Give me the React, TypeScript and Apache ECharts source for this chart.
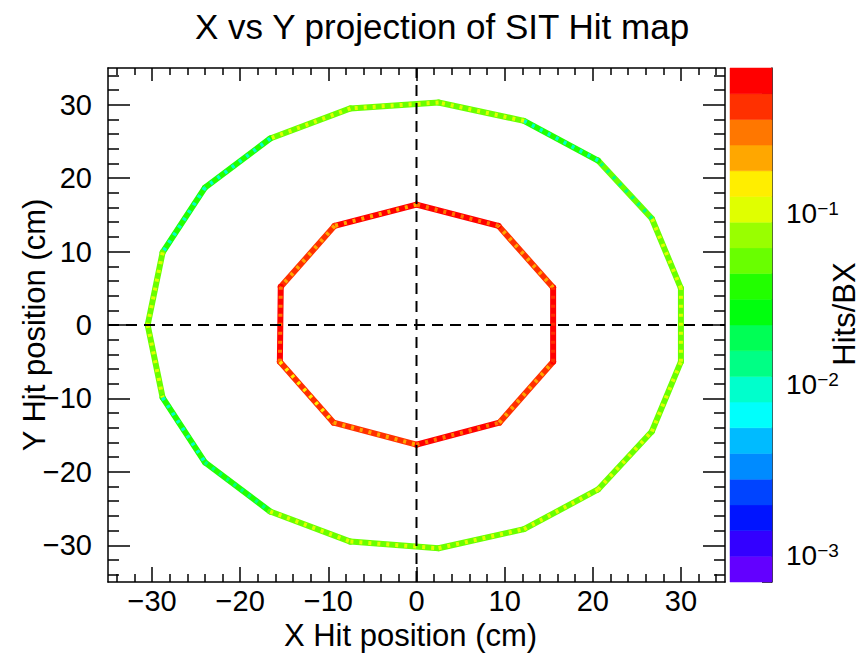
import React, { useEffect, useRef } from 'react';
import * as echarts from 'echarts';

// ---------- texts ----------
const TITLE = 'X vs Y projection of SIT Hit map';
const X_TITLE = 'X Hit position (cm)';
const Y_TITLE = 'Y Hit position (cm)';
const Z_TITLE = 'Hits/BX';

// ---------- axes ----------
const AXIS_MIN = -35;
const AXIS_MAX = 35;
const MAJOR_TICKS = [-30, -20, -10, 0, 10, 20, 30];
const MINOR_TICKS = [-34, -32, -28, -26, -24, -22, -18, -16, -14, -12, -8, -6, -4, -2,
  2, 4, 6, 8, 12, 14, 16, 18, 22, 24, 26, 28, 32, 34];

// ---------- colour (z) axis, log scale ----------
const Z_MIN = 6.95e-4;
const Z_MAX = 0.71;
const Z_MAJOR = [0.001, 0.01, 0.1];
const Z_MINOR = [7e-4, 8e-4, 9e-4,
  0.002, 0.003, 0.004, 0.005, 0.006, 0.007, 0.008, 0.009,
  0.02, 0.03, 0.04, 0.05, 0.06, 0.07, 0.08, 0.09,
  0.2, 0.3, 0.4, 0.5, 0.6, 0.7];
// 20 contour colours, lowest to highest
const PALETTE = ['#6300ff', '#3300ff', '#0014ff', '#0044ff', '#008bff', '#00bbff', '#00fffc', '#00ffcc',
  '#00ff85', '#00ff55', '#00ff0e', '#22ff00', '#69ff00', '#99ff00', '#e0ff00', '#ffee00',
  '#ffa700', '#ff7700', '#ff3000', '#ff0000'];

// ---------- outer SIT layer (19 ladders): polygon corners (cm) ----------
const OUTER_X = [30.0, 26.7, 20.6, 12.2, 2.5, -7.5, -16.6, -24.0, -28.8, -30.5, -28.8, -24.0, -16.6, -7.5, 2.5, 12.2, 20.6, 26.7, 30.0];
const OUTER_Y = [5.0, 14.5, 22.4, 27.8, 30.3, 29.5, 25.4, 18.7, 9.9, 0.0, -9.9, -18.7, -25.4, -29.5, -30.4, -27.8, -22.4, -14.5, -5.0];
// Hits/BX along each edge (edge i goes from corner i to corner i+1): dominant level and speckle level
const OUTER_MAIN = [0.05, 0.045, 0.04, 0.05, 0.06, 0.045, 0.04, 0.04, 0.05, 0.045, 0.04, 0.04, 0.045, 0.05, 0.045, 0.045, 0.05, 0.05, 0.06];
const OUTER_SPECK = [0.11, 0.012, 0.009, 0.1, 0.1, 0.1, 0.009, 0.01, 0.1, 0.1, 0.009, 0.012, 0.1, 0.1, 0.1, 0.11, 0.1, 0.11, 0.1];

// ---------- inner SIT layer (10 ladders) ----------
const INNER_X = [15.5, 9.3, 0.0, -9.3, -15.4, -15.5, -9.4, 0.0, 9.4, 15.5];
const INNER_Y = [5.1, 13.5, 16.4, 13.5, 5.2, -5.0, -13.3, -16.3, -13.3, -5.0];
const INNER_MAIN = [0.5, 0.55, 0.55, 0.42, 0.6, 0.45, 0.5, 0.55, 0.5, 0.6];
const INNER_SPECK = [0.25, 0.3, 0.2, 0.2, 0.3, 0.15, 0.2, 0.3, 0.2, 0.4];

// ---------- dashed zero lines ----------
const ZERO_V = [[0, AXIS_MIN], [0, AXIS_MAX]];
const ZERO_H = [[AXIS_MIN, 0], [AXIS_MAX, 0]];

const FONT = "'Liberation Sans', Arial, Helvetica, sans-serif";
const BLACK = '#000000';

function fmt(v: number): string {
  return v < 0 ? '\u2212' + String(-v) : String(v);
}

function ringSegments(xs: number[], ys: number[], main: number[], speck: number[]) {
  const out: number[][] = [];
  const n = xs.length;
  for (let i = 0; i < n; i++) {
    const j = (i + 1) % n;
    out.push([xs[i], ys[i], xs[j], ys[j], Math.log10(main[i]), 0]);
  }
  for (let i = 0; i < n; i++) {
    const j = (i + 1) % n;
    out.push([xs[i], ys[i], xs[j], ys[j], Math.log10(speck[i]), 1]);
  }
  return out;
}

function buildOption() {
  const lmin = Math.log10(Z_MIN);
  const lmax = Math.log10(Z_MAX);
  const nb = PALETTE.length;
  const levels: number[] = [];
  for (let i = 0; i <= nb; i++) levels.push(lmin + ((lmax - lmin) * i) / nb);

  const pieces = PALETTE.map((c, j) =>
    j === nb - 1
      ? { gte: levels[j], color: c }
      : j === 0
      ? { lt: levels[1], color: c }
      : { gte: levels[j], lt: levels[j + 1], color: c }
  );

  const bandData = PALETTE.map((_, j) => [levels[j], levels[j + 1], 0, 0, (levels[j] + levels[j + 1]) / 2]);

  const segData = [
    ...ringSegments(OUTER_X, OUTER_Y, OUTER_MAIN, OUTER_SPECK),
    ...ringSegments(INNER_X, INNER_Y, INNER_MAIN, INNER_SPECK),
  ];

  const lineStyle = { color: BLACK, width: 1.5 };
  const tickStyle = { color: BLACK, width: 1.5 };

  const mkAx = (position: string, values: number[], len: number, line: boolean, extra: any = {}) => ({
    gridIndex: 0,
    type: 'value',
    position,
    min: AXIS_MIN,
    max: AXIS_MAX,
    axisLine: { show: line, onZero: false, lineStyle },
    axisTick: { show: true, inside: true, length: len, customValues: values, lineStyle: tickStyle },
    axisLabel: { show: false },
    splitLine: { show: false },
    ...extra,
  });

  const tickLabel = {
    show: true,
    customValues: MAJOR_TICKS,
    formatter: (v: number) => fmt(v),
    fontSize: 29,
    fontFamily: FONT,
    color: BLACK,
  };

  return {
    animation: false,
    backgroundColor: '#ffffff',
    title: {
      text: TITLE,
      left: 190,
      top: 4,
      textStyle: { fontSize: 35, fontWeight: 'normal', fontFamily: FONT, color: BLACK },
    },
    grid: [
      { left: 108, top: 68, width: 617, height: 514, containLabel: false, outerBoundsMode: 'none' },
      { left: 730, top: 68, width: 42, height: 514, containLabel: false, outerBoundsMode: 'none' },
    ],
    visualMap: {
      type: 'piecewise',
      show: false,
      dimension: 4,
      seriesIndex: [0, 1],
      pieces,
    },
    xAxis: [
      mkAx('bottom', MAJOR_TICKS, 15, true, {
        axisLabel: { ...tickLabel, margin: 4 },
        name: X_TITLE,
        nameLocation: 'middle',
        nameGap: 38,
        nameMoveOverlap: false,
        nameTextStyle: { fontSize: 31, fontFamily: FONT, color: BLACK, padding: [0, 12, 0, 0] },
      }),
      mkAx('bottom', MINOR_TICKS, 8, false),
      mkAx('top', MAJOR_TICKS, 13, true),
      mkAx('top', MINOR_TICKS, 7, false),
      { gridIndex: 1, type: 'value', min: 0, max: 1, show: false },
    ],
    yAxis: [
      mkAx('left', MAJOR_TICKS, 22, true, {
        axisLabel: { ...tickLabel, margin: 16 },
        name: Y_TITLE,
        nameLocation: 'middle',
        nameGap: 58,
        nameMoveOverlap: false,
        nameTextStyle: { fontSize: 31, fontFamily: FONT, color: BLACK },
      }),
      mkAx('left', MINOR_TICKS, 11, false),
      mkAx('right', MAJOR_TICKS, 22, true),
      mkAx('right', MINOR_TICKS, 11, false),
      {
        gridIndex: 1,
        type: 'value',
        position: 'right',
        min: lmin,
        max: lmax,
        axisLine: { show: true, onZero: false, lineStyle },
        axisTick: { show: true, inside: true, length: 21, customValues: Z_MAJOR.map((v) => Math.log10(v)), lineStyle: tickStyle },
        axisLabel: {
          show: true,
          customValues: Z_MAJOR.map((v) => Math.log10(v)),
          margin: 14,
          formatter: (v: number) => `{b|10}{s|\u2212${Math.round(-v)}}`,
          rich: {
            b: { fontSize: 28, fontFamily: FONT, color: BLACK, lineHeight: 28, verticalAlign: 'bottom' },
            s: { fontSize: 19, fontFamily: FONT, color: BLACK, lineHeight: 16, verticalAlign: 'top', padding: [0, 0, 20, 0] },
          },
        },
        splitLine: { show: false },
        name: Z_TITLE,
        nameLocation: 'middle',
        nameGap: 57,
        nameMoveOverlap: false,
        nameTextStyle: { fontSize: 31, fontFamily: FONT, color: BLACK, padding: [0, 0, 0, 22] },
      },
      {
        gridIndex: 1,
        type: 'value',
        position: 'right',
        min: lmin,
        max: lmax,
        axisLine: { show: false, onZero: false },
        axisTick: { show: true, inside: true, length: 10, customValues: Z_MINOR.map((v) => Math.log10(v)), lineStyle: tickStyle },
        axisLabel: { show: false },
        splitLine: { show: false },
      },
    ],
    series: [
      {
        type: 'custom',
        name: 'hits',
        xAxisIndex: 0,
        yAxisIndex: 0,
        encode: { x: [0, 2], y: [1, 3] },
        data: segData,
        renderItem: (_p: any, api: any) => {
          const a = api.coord([api.value(0), api.value(1)]);
          const b = api.coord([api.value(2), api.value(3)]);
          const speck = api.value(5) === 1;
          return {
            type: 'line',
            shape: { x1: a[0], y1: a[1], x2: b[0], y2: b[1] },
            style: speck
              ? { stroke: api.visual('color'), lineWidth: 4, lineDash: [3, 6], lineCap: 'butt', fill: null }
              : { stroke: api.visual('color'), lineWidth: 6, lineCap: 'round', fill: null },
          };
        },
        z: 2,
      },
      {
        type: 'custom',
        name: 'palette',
        xAxisIndex: 4,
        yAxisIndex: 4,
        encode: { y: [0, 1] },
        data: bandData,
        renderItem: (_p: any, api: any) => {
          const a = api.coord([0, api.value(0)]);
          const b = api.coord([1, api.value(1)]);
          const c = api.visual('color');
          return {
            type: 'rect',
            shape: { x: a[0], y: b[1], width: b[0] - a[0], height: a[1] - b[1] },
            style: { fill: c, stroke: c, lineWidth: 0.5 },
          };
        },
        z: 2,
      },
      {
        type: 'line',
        xAxisIndex: 0,
        yAxisIndex: 0,
        data: ZERO_V,
        symbol: 'none',
        lineStyle: { color: BLACK, width: 2, type: [11, 7] },
        z: 5,
        silent: true,
      },
      {
        type: 'line',
        xAxisIndex: 0,
        yAxisIndex: 0,
        data: ZERO_H,
        symbol: 'none',
        lineStyle: { color: BLACK, width: 2, type: [11, 7] },
        z: 5,
        silent: true,
      },
    ],
  };
}

export default function App() {
  const ref = useRef<HTMLDivElement>(null);
  useEffect(() => {
    if (!ref.current) return;
    const chart = echarts.init(ref.current, undefined, { renderer: 'svg' });
    chart.setOption(buildOption() as any);
    return () => chart.dispose();
  }, []);
  return (
    <div
      ref={ref}
      style={{ position: 'fixed', left: 0, top: 0, width: 865, height: 654, background: '#fff' }}
    />
  );
}
